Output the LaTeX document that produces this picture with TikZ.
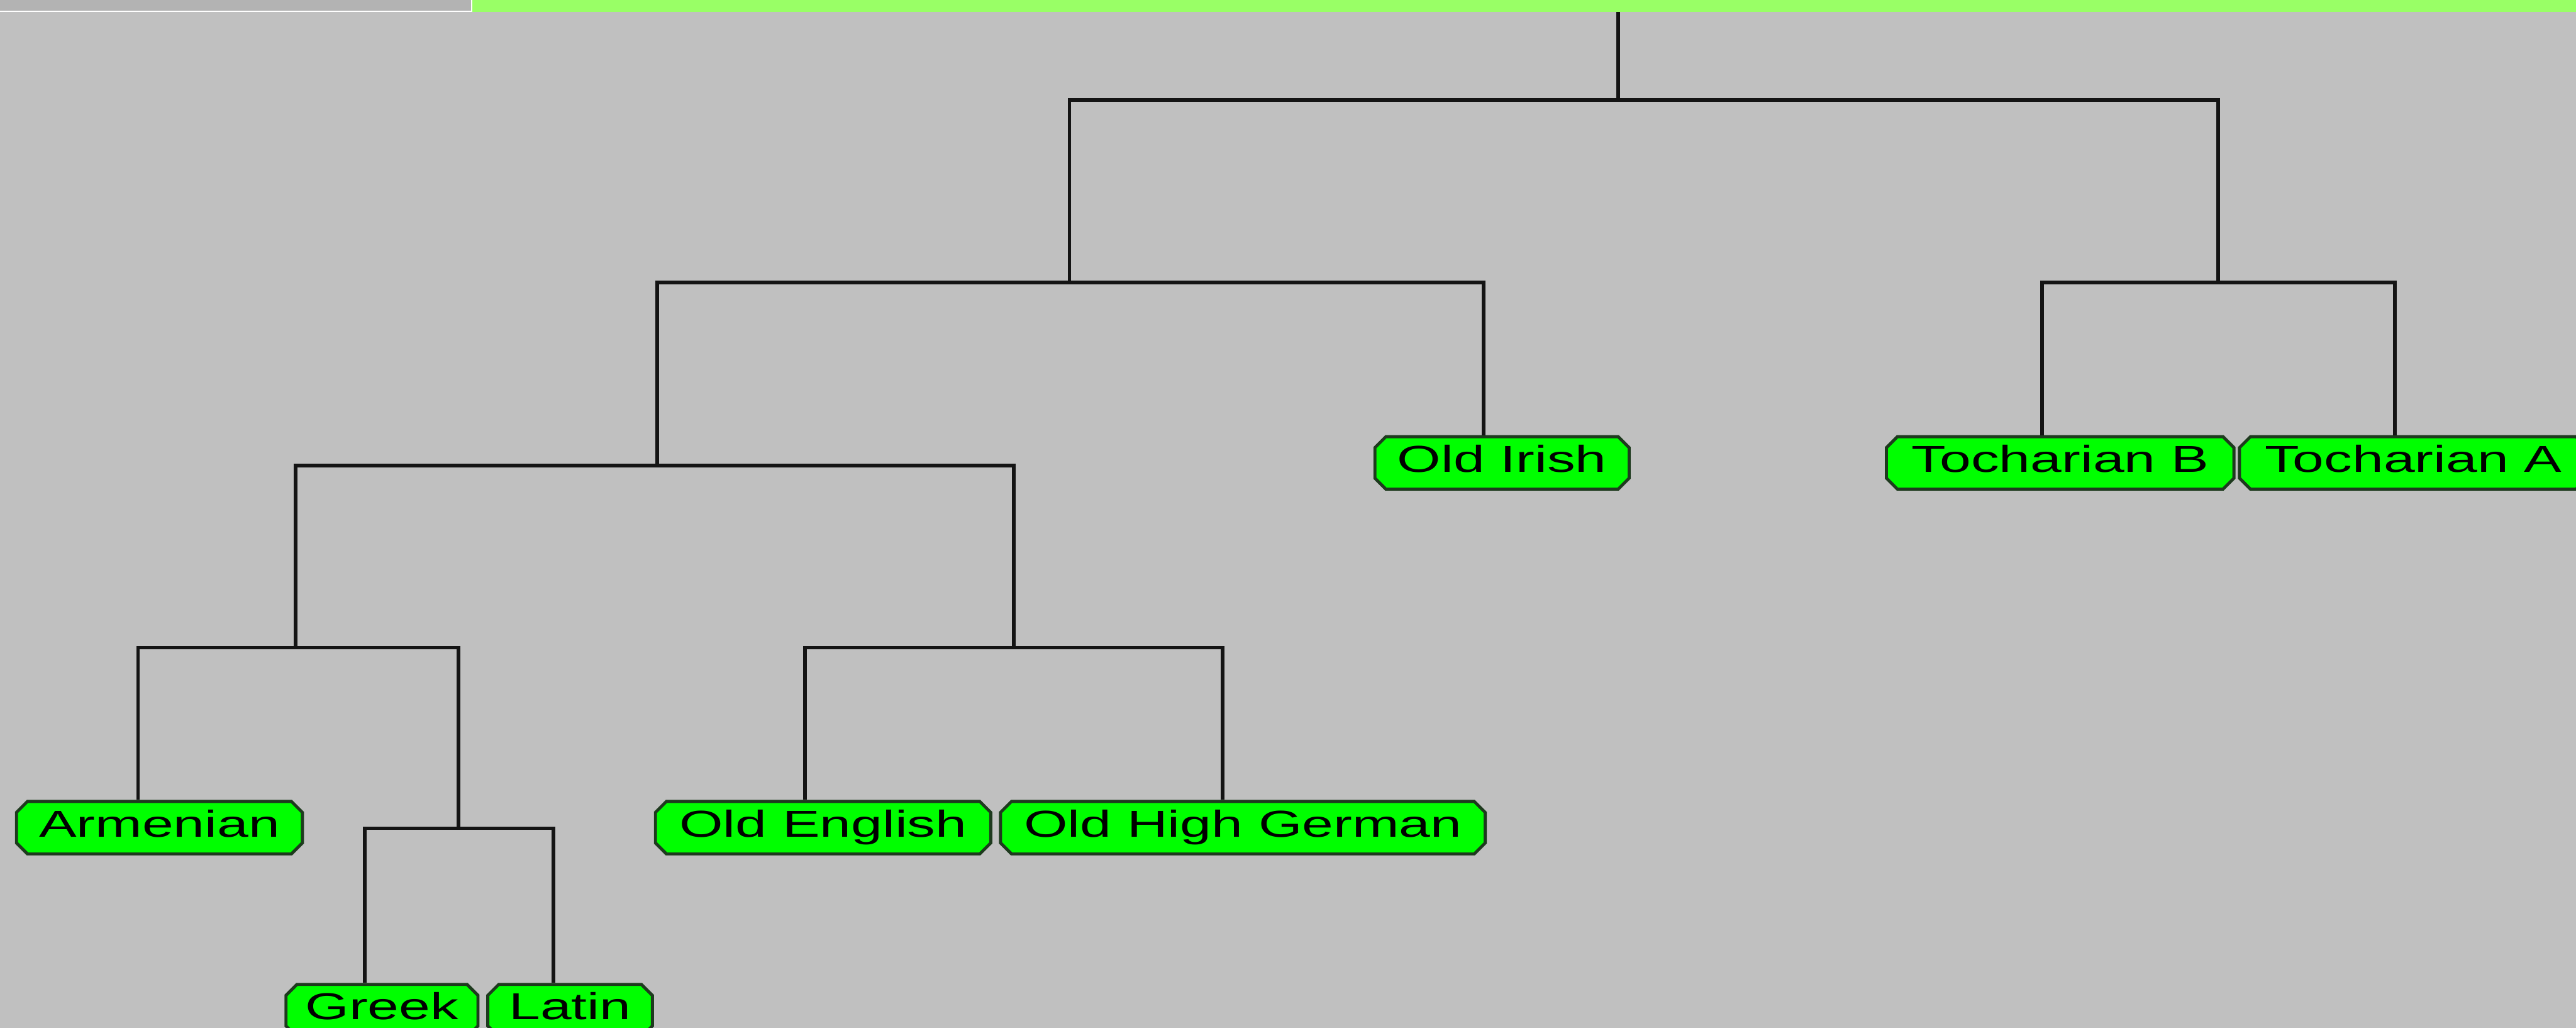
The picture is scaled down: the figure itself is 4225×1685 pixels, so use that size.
\documentclass[tikz,border=0pt]{standalone}
\usepackage{fontspec}
\newfontfamily\langfont[FakeStretch=1.5]{Liberation Sans}
\usetikzlibrary{shapes.misc}
\definecolor{panel}{HTML}{C0C0C0}
\definecolor{barleft}{HTML}{B3B3B3}
\definecolor{barright}{HTML}{99FF66}
\definecolor{leaf}{HTML}{00FF00}
\definecolor{leafedge}{HTML}{1E3A1E}
\definecolor{linecol}{HTML}{141414}

\begin{document}
\begin{tikzpicture}[x=1pt,y=-1pt,
  every node/.style={font=\langfont\fontsize{61.5}{70}\selectfont},
  lang/.style={chamfered rectangle,chamfered rectangle xsep=9pt,
    chamfered rectangle ysep=9pt,draw=leafedge,line width=5pt,fill=leaf,
    inner sep=0pt,minimum width=#1,minimum height=86pt,
    text height=44pt,text depth=14pt},
  branch/.style={draw=linecol,line width=6pt}]
\clip (0,0) rectangle (4225,1685);
\fill[panel] (0,0) rectangle (4225,1685);
% window strip on top
\fill[barright] (773,0) rectangle (4225,20);
\fill[barleft] (0,0) rectangle (773,19);
\draw[white,line width=2pt] (0,19) -- (774,19) -- (774,0);

% leaves
\node[lang=469] (armenian) at (261.5,1357) {Armenian};
\node[lang=315] (greek) at (626.5,1657) {Greek};
\node[lang=270] (latin) at (935,1657) {Latin};
\node[lang=550] (oldenglish) at (1350,1357) {Old English};
\node[lang=795] (ohg) at (2038.5,1357) {Old High German};
\node[lang=417] (oldirish) at (2463.5,759) {Old Irish};
\node[lang=570] (tocharb) at (3379,759) {Tocharian B};
\node[lang=570] (tochara) at (3958,759) {Tocharian A};

% joins
\coordinate (top) at (2654,20);
\coordinate (root) at (2654,164);
\coordinate (core) at (1754,463);
\coordinate (tochar) at (3638,463);
\coordinate (mid) at (1078,763);
\coordinate (south) at (485,1062);
\coordinate (germanic) at (1663,1062);
\coordinate (graeco) at (752,1358);

\draw[branch] (top) -- (root);
\draw[branch] (root) -| (core);
\draw[branch] (root) -| (tochar);
\draw[branch] (core) -| (mid);
\draw[branch] (core) -| ([xshift=-30pt]oldirish.north);
\draw[branch] (tochar) -| ([xshift=-30pt]tocharb.north);
\draw[branch] (tochar) -| ([xshift=-30pt]tochara.north);
\draw[branch] (mid) -| (south);
\draw[branch] (mid) -| (germanic);
\draw[branch] (south) -| ([xshift=-35pt]armenian.north);
\draw[branch] (south) -| (graeco);
\draw[branch] (graeco) -| ([xshift=-28pt]greek.north);
\draw[branch] (graeco) -| ([xshift=-27pt]latin.north);
\draw[branch] (germanic) -| ([xshift=-30pt]oldenglish.north);
\draw[branch] (germanic) -| ([xshift=-33pt]ohg.north);
\end{tikzpicture}
\end{document}
